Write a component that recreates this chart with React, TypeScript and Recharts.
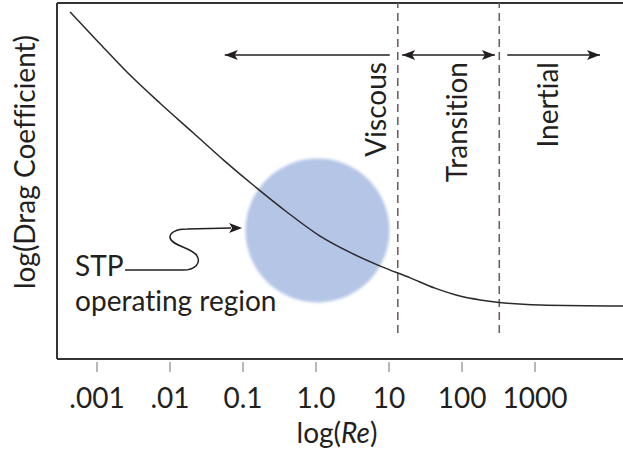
import React from 'react';
import { ComposedChart, Line, Scatter, XAxis, YAxis, ReferenceLine, ReferenceDot } from 'recharts';

// log10(Re) positions and read-off log(drag coefficient) values (arbitrary units, 0..10)
const reLog = [-3.37, -2.98, -2.59, -2.14, -1.68, -1.25, -0.81, -0.4, 0.05, 0.48, 0.88, 1.29, 1.63, 1.97, 2.25, 2.51, 3.07, 4.21];
const dragLog = [9.75, 8.9, 8.06, 7.19, 6.35, 5.56, 4.8, 4.13, 3.46, 2.98, 2.61, 2.28, 1.99, 1.77, 1.66, 1.59, 1.52, 1.49];

const tickValues = [-3, -2, -1, 0, 1, 2, 3];
const tickLabels = ['.001', '.01', '0.1', '1.0', '10', '100', '1000'];

const xDomain = [-3.548, 4.205];
const yDomain = [0, 10];

const regimeBounds = [1.12, 2.51];
const boundBottom = 0.73;

const arrowLevel = 8.54;
const arrowStarts = [-1.25, 1.18, 2.62];
const arrowEnds = [1.01, 2.45, 3.89];
const arrowHeadStart = [true, true, false];
const arrowHeadEnd = [false, true, true];

const regimeNames = ['Viscous', 'Transition', 'Inertial'];
const regimeLabelX = [0.96, 2.07, 3.32];
const regimeLabelY = 8.34;

const regionCenter = [{ x: 0.02, y: 3.61 }];
const stpAnchor = { x: -3.3, y: 2.33 };

const curveData = reLog.map((x, i) => ({ x, y: dragLog[i] }));

const FONT = "Lato, 'Open Sans', sans-serif";
const INK = '#231f20';
const TXT: React.CSSProperties = { fontVariantLigatures: 'none' };

const XTick = (props: any) => {
  const { x, y, payload, index } = props;
  const i = tickValues.indexOf(payload.value);
  return (
    <g>
      <line x1={x} x2={x} y1={y + 3} y2={y + 13} stroke="#a89e98" strokeWidth={1.5} />
      <text x={x} y={y + 49} textAnchor="middle" fontSize={28} fontFamily={FONT} fill={INK} style={TXT}>
        {tickLabels[i >= 0 ? i : index]}
      </text>
    </g>
  );
};

const head = (tx: number, ty: number, dir: number, key: string) => {
  const L = 13, W = 5, N = 3;
  return (
    <polygon
      key={key}
      points={`${tx},${ty} ${tx - dir * L},${ty - W} ${tx - dir * (L - N)},${ty} ${tx - dir * L},${ty + W}`}
      fill={INK}
    />
  );
};

const makeArrow = (startHead: boolean, endHead: boolean) => (p: any) => {
  const { x1, y1, x2, y2 } = p;
  return (
    <g>
      <line x1={x1} y1={y1} x2={x2} y2={y2} stroke={INK} strokeWidth={1.5} />
      {startHead ? head(x1, y1, -1, 's') : null}
      {endHead ? head(x2, y2, 1, 'e') : null}
    </g>
  );
};

const makeRegimeLabel = (name: string) => (p: any) => {
  const { cx, cy } = p;
  return (
    <text
      x={cx}
      y={cy}
      transform={`rotate(-90, ${cx}, ${cy})`}
      textAnchor="end"
      fontSize={28}
      fontFamily={FONT}
      fill={INK}
      style={TXT}
    >
      {name}
    </text>
  );
};

const RegionShape = (p: any) => {
  const { cx, cy } = p;
  return (
    <g>
      <defs>
        <filter id="soft" x="-20%" y="-20%" width="140%" height="140%">
          <feGaussianBlur stdDeviation={1.4} />
        </filter>
      </defs>
      <circle cx={cx} cy={cy} r={72} fill="#b4c5e6" filter="url(#soft)" />
    </g>
  );
};

const StpShape = (p: any) => {
  const { cx, cy } = p;
  const sx = cx + 50;
  const sy = cy - 6;
  const d = `M${sx},${sy} L${sx + 58},${sy} C${sx + 70},${sy} ${sx + 76},${sy - 7} ${sx + 72},${sy - 14} C${sx + 68},${sy - 22} ${sx + 47},${sy - 24} ${sx + 45},${sy - 32} C${sx + 44},${sy - 38} ${sx + 52},${sy - 41} ${sx + 62},${sy - 41} L${sx + 106},${sy - 42}`;
  return (
    <g>
      <text x={cx} y={cy} fontSize={28} fontFamily={FONT} fill={INK} style={TXT}>STP</text>
      <text x={cx} y={cy + 35} fontSize={28} fontFamily={FONT} fill={INK} style={TXT}>operating region</text>
      <path d={d} fill="none" stroke={INK} strokeWidth={1.5} />
      {head(sx + 117, sy - 42, 1, 'h')}
    </g>
  );
};

const XLabel = (p: any) => {
  const vb = p.viewBox || { x: 57, y: 359, width: 566, height: 98 };
  const cx = vb.x + vb.width / 2 - 3;
  return (
    <text x={cx} y={443} textAnchor="middle" fontSize={28} fontFamily={FONT} fill={INK} style={TXT}>
      log(<tspan fontStyle="italic">Re</tspan>)
    </text>
  );
};

const YLabel = () => (
  <text x={35} y={162} transform="rotate(-90, 35, 162)" textAnchor="middle" fontSize={28} fontFamily={FONT} fill={INK} style={TXT}>
    log(Drag Coefficient)
  </text>
);

export default function App() {
  return (
    <div style={{ position: 'absolute', left: 0, top: 0, width: 623, height: 457, background: '#fff' }}>
      <ComposedChart width={623} height={457} margin={{ top: 3, right: 0, bottom: 0, left: 0 }}>
        <XAxis
          type="number"
          dataKey="x"
          domain={xDomain}
          allowDataOverflow
          ticks={tickValues}
          interval={0}
          tick={<XTick />}
          tickLine={false}
          tickSize={0}
          tickMargin={0}
          axisLine={{ stroke: '#333', strokeWidth: 2 }}
          height={98}
          label={<XLabel />}
        />
        <YAxis
          type="number"
          dataKey="y"
          domain={yDomain}
          allowDataOverflow
          tick={false}
          tickLine={false}
          axisLine={{ stroke: '#333', strokeWidth: 2 }}
          width={57}
          label={<YLabel />}
        />
        <Scatter
          data={regionCenter}
          dataKey="y"
          shape={RegionShape}
          isAnimationActive={false}
          {...({ zIndex: 100 } as any)}
        />
        <Line
          data={curveData}
          dataKey="y"
          type="monotone"
          stroke="#2a2a2a"
          strokeWidth={1.5}
          dot={false}
          activeDot={false}
          isAnimationActive={false}
          {...({ zIndex: 900 } as any)}
        />
        <ReferenceLine y={yDomain[1]} stroke="#333" strokeWidth={2} />
        {regimeBounds.map((b, i) => (
          <ReferenceLine
            key={'b' + i}
            segment={[{ x: b, y: boundBottom }, { x: b, y: yDomain[1] }]}
            stroke="#6e625c"
            strokeWidth={1.6}
            strokeDasharray="8 5"
          />
        ))}
        {arrowStarts.map((s, i) => (
          <ReferenceLine
            key={'a' + i}
            segment={[{ x: s, y: arrowLevel }, { x: arrowEnds[i], y: arrowLevel }]}
            shape={makeArrow(arrowHeadStart[i], arrowHeadEnd[i])}
          />
        ))}
        {regimeNames.map((n, i) => (
          <ReferenceDot key={'r' + i} x={regimeLabelX[i]} y={regimeLabelY} r={0} shape={makeRegimeLabel(n)} />
        ))}
        <ReferenceDot x={stpAnchor.x} y={stpAnchor.y} r={0} shape={StpShape} />
      </ComposedChart>
    </div>
  );
}
